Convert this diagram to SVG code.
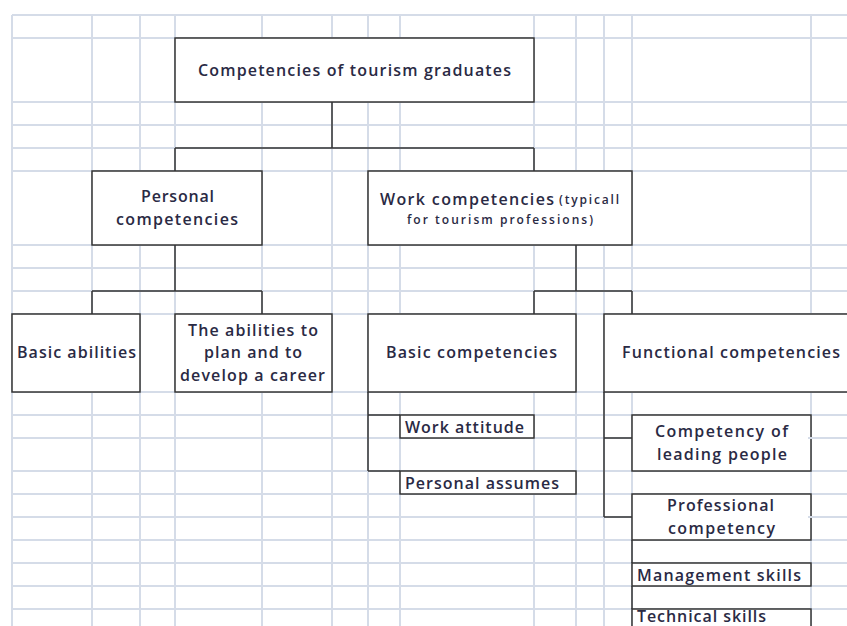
<svg xmlns="http://www.w3.org/2000/svg" width="847" height="626" viewBox="0 0 847 626">
<style>
.grid{stroke:#d5dce8;stroke-width:2;fill:none}
.box{fill:#ffffff;stroke:#333333;stroke-width:1.5}
.conn{fill:none;stroke:#333333;stroke-width:1.5}
.t{font-family:"Open Sans","Noto Sans","Liberation Sans",sans-serif;font-size:16px;font-weight:600;fill:#2a2a44}
.ts{font-family:"Open Sans","Noto Sans","Liberation Sans",sans-serif;font-size:12px;font-weight:600;fill:#2a2a44}
.gap{stroke:#d5dce8;stroke-width:2}
</style>
<rect x="0" y="0" width="847" height="626" fill="#ffffff"/>
<g id="grid">
<path class="grid" d="M12 15V626M92 15V626M140 15V626M175 15V626M262 15V626M332 15V626M368 15V626M400 15V626M534 15V626M576 15V626M604 15V626M632 15V626M811 15V626"/>
<path class="grid" d="M12 15H847M12 38H847M12 102H847M12 125H847M12 148H847M12 171H847M12 245H847M12 268H847M12 291H847M12 314H847M12 392H847M12 415H847M12 438H847M12 471H847M12 494H847M12 517H847M12 540H847M12 563H847M12 586H847M12 609H847"/>
</g>
<g id="connectors">
<path class="conn" d="M332 102V148M175 148H534M175 148V171M534 148V171"/>
<path class="conn" d="M175 245V291M92 291H262M92 291V314M262 291V314"/>
<path class="conn" d="M576 245V291M534 291H632M534 291V314M632 291V314"/>
<path class="conn" d="M368 392V471M368 415H400M368 471H400"/>
<path class="conn" d="M604 392V517M604 438H632M604 517H632"/>
<path class="conn" d="M632 540V563M632 586V609"/>
</g>
<g id="n-root">
<rect class="box" x="175" y="38" width="359" height="64"/>
<text class="t" x="198" y="76" textLength="313" lengthAdjust="spacing">Competencies of tourism graduates</text>
</g>
<g id="n-personal">
<rect class="box" x="92" y="171" width="170" height="74"/>
<text class="t" x="141" y="202" textLength="73" lengthAdjust="spacing">Personal</text>
<text class="t" x="116" y="225" textLength="122" lengthAdjust="spacing">competencies</text>
</g>
<g id="n-work">
<rect class="box" x="368" y="171" width="264" height="74"/>
<text class="t" x="380" y="205" textLength="174" lengthAdjust="spacing">Work competencies</text>
<text class="ts" x="559" y="204" textLength="60" lengthAdjust="spacing">(typicall</text>
<text class="ts" x="407" y="224" textLength="186" lengthAdjust="spacing">for tourism professions)</text>
</g>
<g id="n-basic-abilities">
<rect class="box" x="12" y="314" width="128" height="78"/>
<text class="t" x="17" y="358" textLength="119" lengthAdjust="spacing">Basic abilities</text>
</g>
<g id="n-career">
<rect class="box" x="175" y="314" width="157" height="78"/>
<text class="t" x="188" y="336" textLength="130" lengthAdjust="spacing">The abilities to</text>
<text class="t" x="204" y="358" textLength="98" lengthAdjust="spacing">plan and to</text>
<text class="t" x="180" y="381" textLength="145" lengthAdjust="spacing">develop a career</text>
</g>
<g id="n-basic-comp">
<rect class="box" x="368" y="314" width="208" height="78"/>
<text class="t" x="386" y="358" textLength="171" lengthAdjust="spacing">Basic competencies</text>
</g>
<g id="n-functional">
<rect class="box" x="604" y="314" width="260" height="78"/>
<text class="t" x="622" y="358" textLength="218" lengthAdjust="spacing">Functional competencies</text>
</g>
<g id="n-work-attitude">
<rect class="box" x="400" y="415" width="134" height="23"/>
<text class="t" x="405" y="433" textLength="119" lengthAdjust="spacing">Work attitude</text>
</g>
<g id="n-personal-assumes">
<rect class="box" x="400" y="471" width="176" height="23"/>
<text class="t" x="405" y="489" textLength="154" lengthAdjust="spacing">Personal assumes</text>
</g>
<g id="n-leading">
<rect class="box" x="632" y="415" width="179" height="56"/>
<line class="gap" x1="808" y1="438" x2="814" y2="438"/>
<text class="t" x="655" y="437" textLength="133" lengthAdjust="spacing">Competency of</text>
<text class="t" x="657" y="460" textLength="130" lengthAdjust="spacing">leading people</text>
</g>
<g id="n-professional">
<rect class="box" x="632" y="494" width="179" height="46"/>
<line class="gap" x1="808" y1="517" x2="814" y2="517"/>
<text class="t" x="667" y="511" textLength="107" lengthAdjust="spacing">Professional</text>
<text class="t" x="668" y="534" textLength="107" lengthAdjust="spacing">competency</text>
</g>
<g id="n-management">
<rect class="box" x="632" y="563" width="179" height="23"/>
<text class="t" x="637" y="581" textLength="164" lengthAdjust="spacing">Management skills</text>
</g>
<g id="n-technical">
<rect class="box" x="632" y="609" width="179" height="30"/>
<text class="t" x="637" y="622" textLength="129" lengthAdjust="spacing">Technical skills</text>
</g>
</svg>
